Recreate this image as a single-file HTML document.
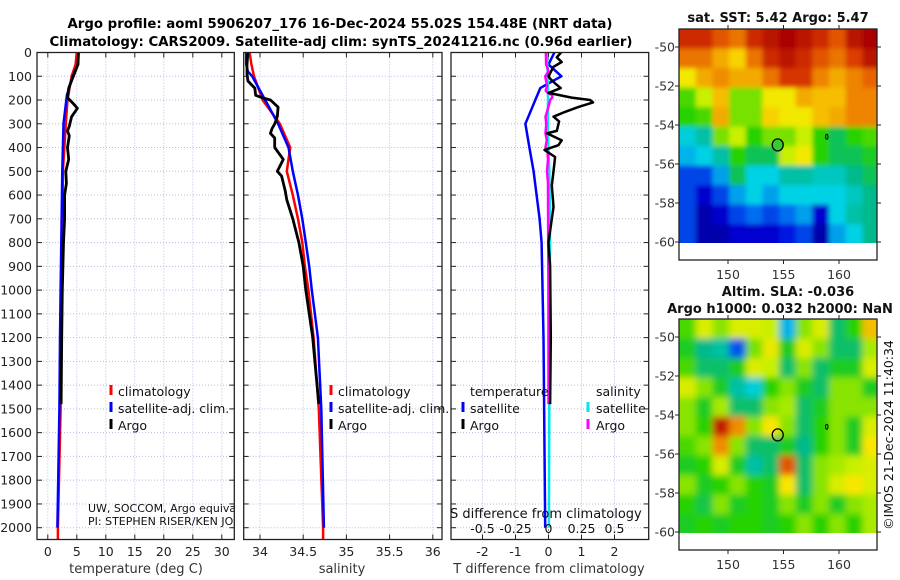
<!DOCTYPE html>
<html><head><meta charset="utf-8">
<style>
html,body{margin:0;padding:0;background:#fff;}
svg{display:block;font-family:"DejaVu Sans","Liberation Sans",sans-serif;}
</style></head>
<body>
<svg id="fig" width="900" height="580" viewBox="0 0 900 580" xmlns="http://www.w3.org/2000/svg">
<rect x="0" y="0" width="900" height="580" fill="#fff"/>
<text x="340" y="28" text-anchor="middle" font-size="13" font-weight="bold" textLength="545" lengthAdjust="spacingAndGlyphs">Argo profile: aoml 5906207_176 16-Dec-2024 55.02S 154.48E (NRT data)</text>
<text x="341" y="46" text-anchor="middle" font-size="13" font-weight="bold" textLength="583" lengthAdjust="spacingAndGlyphs">Climatology: CARS2009. Satellite-adj clim: synTS_20241216.nc (0.96d earlier)</text>
<g id="layer"></g>
</svg>
<script>
// ---------- DATA ----------
const depthTicks = [0,100,200,300,400,500,600,700,800,900,1000,1100,1200,1300,1400,1500,1600,1700,1800,1900,2000];
const tempTicks = [0,5,10,15,20,25,30];
const salTicks = [34,34.5,35,35.5,36];
const salTickLabels = ["34","34.5","35","35.5","36"];
const tdiffTicks = [-2,-1,0,1,2];
const sdiffTicks = [-0.5,-0.25,0,0.25,0.5];
const sdiffTickLabels = ["-0.5","-0.25","0","0.25","0.5"];

const tClimDepth = [0,50,100,200,300,500,1000,1500,2000,2050];
const tClimVal   = [5.0,4.8,4.1,3.4,3.1,2.6,2.4,2.2,1.75,1.75];
const tSatDepth  = [0,50,100,180,300,500,1000,1200,1500,2000];
const tSatVal    = [5.3,5.2,4.3,3.3,2.7,2.5,2.2,2.1,2.0,1.65];
const tArgoDepth = [0,50,100,150,190,215,235,270,310,330,350,400,450,500,550,600,700,800,1000,1200,1480];
const tArgoVal   = [5.3,5.2,4.4,3.6,3.4,4.4,5.1,4.1,3.7,3.4,3.7,3.4,3.6,3.1,3.2,2.9,2.9,2.7,2.5,2.4,2.3];

const sClimDepth = [0,50,100,200,300,400,500,600,700,800,900,1000,1200,1500,2000,2050];
const sClimVal   = [33.88,33.9,33.93,34.03,34.23,34.35,34.31,34.38,34.44,34.49,34.52,34.56,34.62,34.68,34.73,34.73];
const sSatDepth  = [0,50,80,100,200,300,400,500,600,700,800,900,1000,1200,1500,2000];
const sSatVal    = [33.84,33.84,33.86,33.91,34.06,34.21,34.33,34.38,34.44,34.49,34.53,34.57,34.6,34.67,34.71,34.74];
const sArgoDepth = [0,50,90,120,150,180,190,200,230,270,300,320,340,360,400,450,500,520,580,620,700,800,900,1000,1200,1480];
const sArgoVal   = [33.86,33.85,33.85,33.86,33.94,33.95,34.02,34.12,34.21,34.2,34.17,34.14,34.12,34.17,34.17,34.27,34.2,34.25,34.29,34.31,34.38,34.45,34.5,34.53,34.61,34.68];

const dTSatDepth = [0,50,100,130,150,200,300,400,500,600,700,800,1200,2000];
const dTSatVal   = [0.18,0.0,0.39,0.0,-0.25,-0.4,-0.7,-0.58,-0.45,-0.36,-0.27,-0.21,-0.15,-0.1];
const dTArgoDepth = [0,20,40,60,100,110,130,150,170,190,200,210,230,250,270,290,330,340,370,390,410,440,500,560,650,700,800,900,1200,1480];
const dTArgoVal   = [0.38,0.25,0.4,0.15,0,0.05,0.2,0.37,0,0.7,1.26,1.35,0.9,0.5,0.15,0.32,0.25,-0.05,0.4,0.3,-0.12,0.2,0.15,0.1,0.15,0.1,0.0,0.05,0.07,0.05];
const dSSatDepth = [0,100,200,300,400,500,600,800,1200,2000];
const dSSatVal   = [-0.013,-0.005,-0.004,-0.006,0,0.006,0.009,0.011,0.008,0.003];
const dSArgoDepth = [0,50,80,100,120,140,160,170,180,190,200,250,270,300,340,370,400,420,450,500,550,600,700,1000,1480];
const dSArgoVal   = [-0.02,-0.018,0,-0.025,-0.018,-0.01,-0.021,-0.005,0.028,0.028,0.013,-0.011,-0.023,-0.017,-0.023,-0.013,-0.023,-0.007,-0.004,-0.011,-0.004,-0.004,-0.003,-0.001,0];

const mapLonTicks = [150,155,160];
const mapLatTicks = [-50,-52,-54,-56,-58,-60];
const mapLonStart = 145.6, mapLonStep = 1.5;
const mapLatStart = -49.08, mapLatStep = 1.0;
const sstGrid = [
[0.88,0.88,0.82,0.78,0.88,0.92,0.95,0.92,0.88,0.82,0.92,0.95],
[0.78,0.78,0.72,0.68,0.78,0.88,0.92,0.88,0.82,0.78,0.85,0.92],
[0.65,0.72,0.75,0.72,0.72,0.78,0.86,0.86,0.76,0.72,0.76,0.8],
[0.52,0.6,0.7,0.55,0.55,0.65,0.65,0.72,0.7,0.7,0.76,0.76],
[0.5,0.52,0.72,0.55,0.55,0.68,0.65,0.65,0.7,0.72,0.76,0.76],
[0.36,0.4,0.55,0.6,0.5,0.55,0.55,0.6,0.5,0.45,0.5,0.52],
[0.32,0.35,0.4,0.5,0.45,0.45,0.6,0.65,0.5,0.45,0.45,0.48],
[0.2,0.2,0.3,0.45,0.35,0.35,0.4,0.4,0.38,0.38,0.42,0.45],
[0.2,0.1,0.2,0.3,0.35,0.3,0.35,0.35,0.35,0.35,0.38,0.42],
[0.2,0.05,0.1,0.2,0.25,0.2,0.25,0.3,0.1,0.35,0.4,0.42],
[0.2,0.05,0.05,0.1,0.1,0.1,0.15,0.2,0.05,0.3,0.35,0.42]];
const slaGrid = [
[0.52,0.62,0.56,0.62,0.62,0.6,0.32,0.56,0.62,0.44,0.5,0.7],
[0.48,0.42,0.4,0.22,0.55,0.64,0.48,0.62,0.56,0.44,0.44,0.58],
[0.52,0.44,0.44,0.48,0.62,0.6,0.44,0.56,0.44,0.48,0.48,0.62],
[0.62,0.56,0.48,0.4,0.36,0.5,0.56,0.48,0.44,0.56,0.56,0.48],
[0.56,0.48,0.58,0.44,0.44,0.56,0.58,0.44,0.48,0.56,0.56,0.56],
[0.56,0.5,0.9,0.75,0.56,0.66,0.56,0.44,0.5,0.56,0.48,0.62],
[0.52,0.56,0.75,0.56,0.44,0.44,0.48,0.42,0.5,0.56,0.48,0.66],
[0.48,0.5,0.62,0.48,0.4,0.44,0.82,0.44,0.56,0.58,0.6,0.62],
[0.56,0.48,0.5,0.56,0.5,0.48,0.66,0.44,0.56,0.62,0.66,0.62],
[0.5,0.46,0.56,0.48,0.5,0.48,0.56,0.48,0.56,0.48,0.56,0.58],
[0.48,0.5,0.48,0.5,0.5,0.48,0.5,0.56,0.5,0.56,0.5,0.58]];
const floatLon = [154.48];
const floatLat = [-55.02];

// ---------- DRAWING ----------
const NS="http://www.w3.org/2000/svg";
const root=document.getElementById('layer');
function mk(tag,attrs,parent){const e=document.createElementNS(NS,tag);for(const k in attrs)e.setAttribute(k,attrs[k]);(parent||root).appendChild(e);return e;}
const yD = d => 52.5 + d*0.2376;
const TOP=52.5, BOT=539.5;
const xT = v => 47.8 + v*5.8;
const xS = v => 260 + (v-34)*86.4;
const xDT = v => 548.5 + v*33;
const xDS = v => 548.5 + v*132;

function panel(name,x0,x1,xTicks,xfn,labels,showY){
  const g=mk('g',{});
  
  
  depthTicks.forEach(d=>{const l=mk('line',{x1:x0,x2:x1,y1:yD(d),y2:yD(d),stroke:'#b4bce4','stroke-width':1,'stroke-dasharray':'1,2'},g);
    
    mk('line',{x1:x0,x2:x0+5,y1:yD(d),y2:yD(d),stroke:'#222'},g);mk('line',{x1:x1-5,x2:x1,y1:yD(d),y2:yD(d),stroke:'#222'},g);
    if(showY){const t=mk('text',{x:32,y:yD(d)+4.5,'text-anchor':'end','font-size':12.5,fill:'#222'},g);t.textContent=d;
      }
  });
  xTicks.forEach((v,i)=>{const x=xfn(v);
    const l=mk('line',{x1:x,x2:x,y1:TOP,y2:BOT,stroke:'#b4bce4','stroke-width':1,'stroke-dasharray':'1,2'},g);
    
    mk('line',{x1:x,x2:x,y1:BOT-5,y2:BOT,stroke:'#222'},g);mk('line',{x1:x,x2:x,y1:TOP,y2:TOP+5,stroke:'#222'},g);
    const t=mk('text',{x:x,y:556,'text-anchor':'middle','font-size':12.5,fill:'#222'},g);t.textContent=labels[i];
    
  });
  return g;
}
function frame(name,x0,x1){const r=mk('rect',{x:x0,y:TOP,width:x1-x0,height:BOT-TOP,fill:'none',stroke:'#222','stroke-width':1.3});
  }
function line(name,ds,vs,xfn,color,w,clip){const pts=ds.map((d,i)=>xfn(vs[i]).toFixed(1)+','+yD(d).toFixed(1)).join(' ');
  const p=mk('polyline',{points:pts,fill:'none',stroke:color,'stroke-width':w,'stroke-linejoin':'round'});
  if(clip)p.setAttribute('clip-path',clip);
  return p;}
function txt(name,x,y,s,size,extra){const t=mk('text',Object.assign({x:x,y:y,'font-size':size,fill:'#111'},extra||{}));t.textContent=s;
  return t;}
function legendMark(name,x,y,color){const l=mk('line',{x1:x,x2:x,y1:y-11,y2:y-1,stroke:color,'stroke-width':3});
  }

// clip paths & filters
const defs=mk('defs',{});
[['c1',37,234.3],['c2',243.7,442],['c3',451,648.7]].forEach(c=>{const cp=mk('clipPath',{id:c[0]},defs);mk('rect',{x:c[1],y:TOP,width:c[2]-c[1],height:BOT-TOP},cp);});
const cpm1=mk('clipPath',{id:'cm1'},defs);mk('rect',{x:679,y:29,width:198,height:214},cpm1);
const cpm2=mk('clipPath',{id:'cm2'},defs);mk('rect',{x:679,y:319,width:198,height:214},cpm2);
const f1=mk('filter',{id:'blur1',x:'-5%',y:'-5%',width:'110%',height:'110%'},defs);mk('feGaussianBlur',{stdDeviation:2.5},f1);
const f2=mk('filter',{id:'blur2',x:'-5%',y:'-5%',width:'110%',height:'110%'},defs);mk('feGaussianBlur',{stdDeviation:3.5},f2);

// Panel 1: temperature
panel('temperature-panel',37,234.3,tempTicks,xT,tempTicks.map(String),true);
line('temp-climatology-line',tClimDepth,tClimVal,xT,'#ff0000',2.5,'url(#c1)');
line('temp-satellite-line',tSatDepth,tSatVal,xT,'#0000ff',2.5,'url(#c1)');
line('temp-argo-line',tArgoDepth,tArgoVal,xT,'#000000',2.8,'url(#c1)');
frame('temperature-panel-frame',37,234.3);
txt('temperature-axis-title',136,573,'temperature (deg C)',13,{'text-anchor':'middle',fill:'#333'});
legendMark('legend-climatology-marker',111,396,'#ff0000');txt('legend-climatology',118,396,'climatology',12.5);
legendMark('legend-satellite-marker',111,413,'#0000ff');txt('legend-satellite',118,413,'satellite-adj. clim.',12.5);
legendMark('legend-argo-marker',111,430,'#000');txt('legend-argo',118,430,'Argo',12.5);
const g1=mk('g',{'clip-path':'url(#c1)'});
const a1=mk('text',{x:88,y:512,'font-size':11,fill:'#111'},g1);a1.textContent='UW, SOCCOM, Argo equivalent';

const a2=mk('text',{x:88,y:525,'font-size':11,fill:'#111'},g1);a2.textContent='PI: STEPHEN RISER/KEN JOHNSON';


// Panel 2: salinity
panel('salinity-panel',243.7,442,salTicks,xS,salTickLabels,false);
line('sal-climatology-line',sClimDepth,sClimVal,xS,'#ff0000',2.5,'url(#c2)');
line('sal-satellite-line',sSatDepth,sSatVal,xS,'#0000ff',2.5,'url(#c2)');
line('sal-argo-line',sArgoDepth,sArgoVal,xS,'#000000',2.8,'url(#c2)');
frame('salinity-panel-frame',243.7,442);
txt('salinity-axis-title',342,573,'salinity',13,{'text-anchor':'middle',fill:'#333'});
legendMark('legend2-climatology-marker',331,396,'#ff0000');txt('legend2-climatology',338,396,'climatology',12.5);
legendMark('legend2-satellite-marker',331,413,'#0000ff');txt('legend2-satellite',338,413,'satellite-adj. clim.',12.5);
legendMark('legend2-argo-marker',331,430,'#000');txt('legend2-argo',338,430,'Argo',12.5);

// Panel 3: differences
panel('difference-panel',451,648.7,tdiffTicks,xDT,tdiffTicks.map(String),false);
const zl=mk('line',{x1:xDT(0),x2:xDT(0),y1:TOP,y2:BOT,stroke:'#000','stroke-width':1,'stroke-dasharray':'1,2'});

line('tdiff-satellite-line',dTSatDepth,dTSatVal,xDT,'#0000ff',2.5,'url(#c3)');
line('sdiff-satellite-line',dSSatDepth,dSSatVal,xDS,'#00e8e8',2.5,'url(#c3)');
line('sdiff-argo-line',dSArgoDepth,dSArgoVal,xDS,'#ff00ff',2.5,'url(#c3)');
line('tdiff-argo-line',dTArgoDepth,dTArgoVal,xDT,'#000000',2.5,'url(#c3)');
frame('difference-panel-frame',451,648.7);
txt('tdiff-axis-title',549,573,'T difference from climatology',13,{'text-anchor':'middle',fill:'#333'});
txt('sdiff-axis-title',450,518,'S difference from climatology',13,{fill:'#111'});
sdiffTicks.forEach((v,i)=>{txt('sdiff-tick-label',xDS(v),533,sdiffTickLabels[i],12.5,{'text-anchor':'middle'});});
txt('legend3-temperature-header',470,396,'temperature',12.5);
legendMark('legend3-tsat-marker',463,413,'#0000ff');txt('legend3-tsat',470,413,'satellite',12.5);
legendMark('legend3-targo-marker',463,430,'#000');txt('legend3-targo',470,430,'Argo',12.5);
txt('legend3-salinity-header',596,396,'salinity',12.5);
legendMark('legend3-ssat-marker',588,413,'#00e8e8');txt('legend3-ssat',596,413,'satellite',12.5);
legendMark('legend3-sargo-marker',588,430,'#ff00ff');txt('legend3-sargo',596,430,'Argo',12.5);

// ---------- MAPS ----------
const cmapStops=[[0,0,0,140],[0.12,0,0,220],[0.25,0,110,240],[0.35,0,210,230],[0.42,0,185,140],[0.5,40,210,0],[0.6,200,240,0],[0.66,250,230,0],[0.75,240,140,0],[0.85,220,60,0],[0.95,170,0,0],[1,140,0,0]];
function cmap(v){v=Math.max(0,Math.min(1,v));
  for(let i=1;i<cmapStops.length;i++){const a=cmapStops[i-1],b=cmapStops[i];
    if(v<=b[0]){const t=(v-a[0])/(b[0]-a[0]);return 'rgb('+[1,2,3].map(k=>Math.round(a[k]+t*(b[k]-a[k]))).join(',')+')';}}
  return 'rgb(140,0,0)';}
function drawMap(name,grid,fy0,latTop,pxPerDegY,clipId,filterId){
  const X0=679,X1=877,FY0=fy0,FY1=fy0+231;
  const lonX=lon=>728+(lon-150)*11.1;
  const latY=lat=>latTop+(-50-lat)*pxPerDegY;
  const g=mk('g',{});
  const clipG=mk('g',{'clip-path':'url(#'+clipId+')'},g);
  const cells=mk('g',{filter:'url(#'+filterId+')'},clipG);
  grid.forEach((row,ri)=>row.forEach((v,ci)=>{
    const la0=mapLatStart-ri*mapLatStep, la1=la0-mapLatStep;
    const lo0=mapLonStart+ci*mapLonStep, lo1=lo0+mapLonStep;
    let y0=latY(la0), y1=latY(la1);
    let x0=lonX(lo0), x1=lonX(lo1);
    if(ri===0)y0-=10; if(ri===grid.length-1)y1+=10;
    if(ci===0)x0-=10; if(ci===row.length-1)x1+=10;
    const c=mk('rect',{x:x0.toFixed(1),y:y0.toFixed(1),width:(x1-x0+0.6).toFixed(1),height:(y1-y0+0.6).toFixed(1),fill:cmap(v)},cells);
    
  }));
  const fr=mk('rect',{x:X0,y:FY0,width:X1-X0,height:FY1-FY0,fill:'none',stroke:'#222','stroke-width':1.3},g);
  
  mapLatTicks.forEach(lat=>{const y=latY(lat);
    mk('line',{x1:X0,x2:X0-4,y1:y,y2:y,stroke:'#222'},g);mk('line',{x1:X1,x2:X1+4,y1:y,y2:y,stroke:'#222'},g);
    const t=mk('text',{x:675,y:y+4.5,'text-anchor':'end','font-size':12.5,fill:'#333'},g);t.textContent=lat;
    });
  mapLonTicks.forEach(lon=>{const x=lonX(lon);
    mk('line',{x1:x,x2:x,y1:FY1,y2:FY1+4,stroke:'#222'},g);mk('line',{x1:x,x2:x,y1:FY0,y2:FY0-4,stroke:'#222'},g);
    const t=mk('text',{x:x,y:FY1+19,'text-anchor':'middle','font-size':12.5,fill:'#333'},g);t.textContent=lon;
    });
  const m=mk('ellipse',{cx:lonX(floatLon[0]),cy:latY(floatLat[0]),rx:5.5,ry:6,fill:name==='sst-map'?'#33cc33':'none',stroke:'#000','stroke-width':1.3},g);
  
  const s=mk('ellipse',{cx:lonX(158.9),cy:latY(-54.6),rx:1.2,ry:2.5,fill:'none',stroke:'#000','stroke-width':1},g);
  
  return g;
}
drawMap('sst-map',sstGrid,29,47,19.5,'cm1','blur1');
txt('sst-map-title',778,22,'sat. SST: 5.42 Argo: 5.47',13,{'text-anchor':'middle','font-weight':'bold'});
drawMap('sla-map',slaGrid,319,337,19.5,'cm2','blur2');
txt('sla-map-title-1',788,296,'Altim. SLA: -0.036',13,{'text-anchor':'middle','font-weight':'bold'});
txt('sla-map-title-2',780,313,'Argo h1000: 0.032 h2000: NaN',13,{'text-anchor':'middle','font-weight':'bold'});
txt('copyright-stamp',0,0,'\u00a9IMOS 21-Dec-2024 11:40:34',12.5,{'text-anchor':'middle',transform:'translate(893,435) rotate(-90)'});
</script>
</body></html>
